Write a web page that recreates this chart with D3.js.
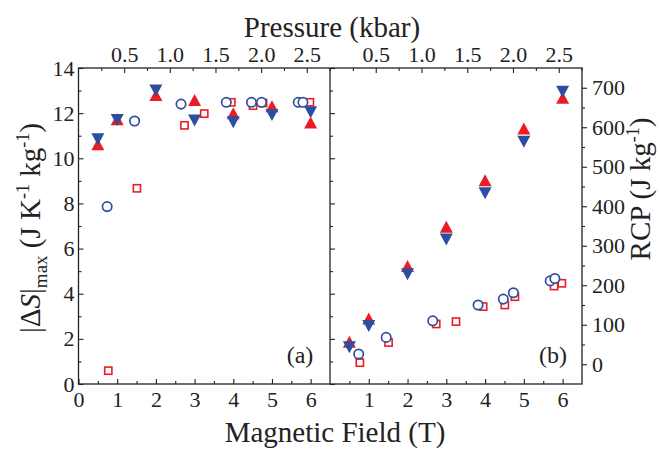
<!DOCTYPE html>
<html><head><meta charset="utf-8">
<script src="https://cdn.jsdelivr.net/npm/d3@7"></script>
<style>
body{margin:0;background:#fff}
text{font-family:"Liberation Serif","Times New Roman",serif;fill:#222}
</style>
</head><body>
<svg id="chart" width="660" height="451"></svg>
<script>
// Magnetic field (T) at which each series was measured
const triFields = [0.5, 1, 2, 3, 4, 5, 6];
const circleFields = [0.74, 1.45, 2.65, 3.82, 4.47, 4.73, 5.68, 5.8];
const squareFields = [0.77, 1.51, 2.74, 3.25, 3.95, 4.51, 4.77, 5.78, 5.98];

// |ΔS|max (J K^-1 kg^-1)
const dsUp = [10.62, 11.73, 12.8, 12.58, 12.0, 12.3, 11.58];
const dsDown = [10.84, 11.7, 13.0, 11.67, 11.6, 11.92, 12.04];
const dsCircle = [7.86, 11.65, 12.4, 12.48, 12.48, 12.48, 12.48, 12.48];
const dsSquare = [0.59, 8.67, 11.46, 11.98, 12.48, 12.33, 12.45, 12.48, 12.48];

// RCP (J kg^-1)
const rcpUp = [57, 116, 249, 348, 466, 597, 675];
const rcpDown = [43, 97, 228, 316, 433, 563, 690];
const rcpCircle = [26, 68, 110, 150, 165, 181, 211, 217];
const rcpSquare = [4, 55, 102, 108, 146, 150, 171, 198, 205];

// Tick values
const fieldTicksLeft = [0, 1, 2, 3, 4, 5, 6];
const fieldTicksRight = [1, 2, 3, 4, 5, 6];
const fieldMinor = [0.5, 1.5, 2.5, 3.5, 4.5, 5.5];
const pressureTicks = [0.5, 1.0, 1.5, 2.0, 2.5];
const pressureMinor = [0.25, 0.75, 1.25, 1.75, 2.25, 2.75];
const dsTicks = [0, 2, 4, 6, 8, 10, 12, 14];
const dsMinor = [1, 3, 5, 7, 9, 11, 13];
const rcpTicks = [0, 100, 200, 300, 400, 500, 600, 700];
const rcpMinor = [50, 150, 250, 350, 450, 550, 650];

const RED = "#ec1c24", BLUE = "#2c4da0";
const SERIF = '"Liberation Serif","Times New Roman",serif';
const svg = d3.select("#chart");

const plotTop = 68, plotBottom = 384, x0 = 78.5, xm = 330, x1 = 582;
const xL = d3.scaleLinear().domain([0, 6.5]).range([x0, xm]);
const xR = d3.scaleLinear().domain([0, 6.5]).range([xm, x1]);
// field-to-pressure conversion: 1 kbar ≈ 2.36 T
const kbar = 2.36;
const pL = d3.scaleLinear().domain([0, 6.5 / kbar]).range([x0, xm]);
const pR = d3.scaleLinear().domain([0, 6.5 / kbar]).range([xm, x1]);
const yDS = d3.scaleLinear().domain([0, 14]).range([plotBottom, plotTop]);
const yRCP = d3.scaleLinear().domain([-50, 750]).range([plotBottom, plotTop]);

const tickFont = 22;

function styleAxis(g, size) {
  g.attr("font-family", SERIF);
  g.select(".domain").remove();
  g.selectAll(".tick line").attr("stroke", "#222").attr("stroke-width", 1.1);
  g.selectAll(".tick text").style("font-size", size + "px")
    .style("font-family", SERIF).attr("fill", "#222");
}
function addAxis(axis, transform, size) {
  const g = svg.append("g").attr("transform", transform).call(axis);
  styleAxis(g, size);
  return g;
}

// bottom field axes (ticks point inward)
addAxis(d3.axisBottom(xL).tickValues(fieldTicksLeft).tickFormat(d3.format("d")).tickSizeInner(-5).tickPadding(7), `translate(0,${plotBottom})`, tickFont);
addAxis(d3.axisBottom(xL).tickValues(fieldMinor).tickFormat("").tickSizeInner(-3), `translate(0,${plotBottom})`, tickFont);
addAxis(d3.axisBottom(xR).tickValues(fieldTicksRight).tickFormat(d3.format("d")).tickSizeInner(-5).tickPadding(7), `translate(0,${plotBottom})`, tickFont);
addAxis(d3.axisBottom(xR).tickValues(fieldMinor).tickFormat("").tickSizeInner(-3), `translate(0,${plotBottom})`, tickFont);

// top pressure axes
addAxis(d3.axisTop(pL).tickValues(pressureTicks).tickFormat(d3.format(".1f")).tickSizeInner(-5).tickPadding(6), `translate(0,${plotTop})`, tickFont);
addAxis(d3.axisTop(pL).tickValues(pressureMinor).tickFormat("").tickSizeInner(-3), `translate(0,${plotTop})`, tickFont);
addAxis(d3.axisTop(pR).tickValues(pressureTicks).tickFormat(d3.format(".1f")).tickSizeInner(-5).tickPadding(6), `translate(0,${plotTop})`, tickFont);
addAxis(d3.axisTop(pR).tickValues(pressureMinor).tickFormat("").tickSizeInner(-3), `translate(0,${plotTop})`, tickFont);

// left |ΔS| axis
addAxis(d3.axisLeft(yDS).tickValues(dsTicks).tickFormat(d3.format("d")).tickSizeInner(-5).tickPadding(4), `translate(${x0},0)`, tickFont);
addAxis(d3.axisLeft(yDS).tickValues(dsMinor).tickFormat("").tickSizeInner(-3), `translate(${x0},0)`, tickFont);
// mirrored |ΔS| ticks on the divider
addAxis(d3.axisRight(yDS).tickValues(dsTicks).tickFormat("").tickSizeInner(5), `translate(${xm},0)`, tickFont);
addAxis(d3.axisRight(yDS).tickValues(dsMinor).tickFormat("").tickSizeInner(3), `translate(${xm},0)`, tickFont);

// right RCP axis
addAxis(d3.axisRight(yRCP).tickValues(rcpTicks).tickFormat(d3.format("d")).tickSizeInner(5).tickPadding(5), `translate(${x1},0)`, tickFont);
addAxis(d3.axisRight(yRCP).tickValues(rcpMinor).tickFormat("").tickSizeInner(3), `translate(${x1},0)`, tickFont);

// frames
svg.append("rect").attr("x", x0).attr("y", plotTop).attr("width", x1 - x0).attr("height", plotBottom - plotTop)
  .attr("fill", "none").attr("stroke", "#222").attr("stroke-width", 1.3);
svg.append("line").attr("x1", xm).attr("x2", xm).attr("y1", plotTop).attr("y2", plotBottom)
  .attr("stroke", "#222").attr("stroke-width", 1.3);

// markers
const triW = 13, triH = 12;
const upPath = `M0,${-triH / 2}L${triW / 2},${triH / 2}L${-triW / 2},${triH / 2}Z`;
const downPath = `M0,${triH / 2}L${triW / 2},${-triH / 2}L${-triW / 2},${-triH / 2}Z`;

function drawPanel(xs, ys, up, down, circ, sq) {
  const g = svg.append("g");
  g.selectAll(".sq").data(d3.zip(squareFields, sq)).join("rect")
    .attr("x", d => xs(d[0]) - 3.6).attr("y", d => ys(d[1]) - 3.6)
    .attr("width", 7.2).attr("height", 7.2)
    .attr("fill", "#fff").attr("stroke", RED).attr("stroke-width", 1.6);
  g.selectAll(".ci").data(d3.zip(circleFields, circ)).join("circle")
    .attr("cx", d => xs(d[0])).attr("cy", d => ys(d[1])).attr("r", 4.7)
    .attr("fill", "#fff").attr("stroke", BLUE).attr("stroke-width", 1.7);
  g.selectAll(".up").data(d3.zip(triFields, up)).join("path")
    .attr("d", upPath).attr("transform", d => `translate(${xs(d[0])},${ys(d[1])})`)
    .attr("fill", RED);
  g.selectAll(".dn").data(d3.zip(triFields, down)).join("path")
    .attr("d", downPath).attr("transform", d => `translate(${xs(d[0])},${ys(d[1])})`)
    .attr("fill", BLUE);
}
drawPanel(xL, yDS, dsUp, dsDown, dsCircle, dsSquare);
drawPanel(xR, yRCP, rcpUp, rcpDown, rcpCircle, rcpSquare);

// panel labels
svg.append("text").attr("x", 300).attr("y", 363).attr("text-anchor", "middle")
  .style("font-size", "24px").text("(a)");
svg.append("text").attr("x", 553).attr("y", 363).attr("text-anchor", "middle")
  .style("font-size", "24px").text("(b)");

// axis titles
svg.append("text").attr("x", 332).attr("y", 37).attr("text-anchor", "middle")
  .style("font-size", "29px").text("Pressure (kbar)");
svg.append("text").attr("x", 335).attr("y", 442).attr("text-anchor", "middle")
  .style("font-size", "29px").text("Magnetic Field (T)");

const yl = svg.append("text").attr("transform", "translate(40,228) rotate(-90)")
  .attr("text-anchor", "middle").style("font-size", "29px");
yl.append("tspan").text("|Δ");
yl.append("tspan").style("font-style", "italic").text("S");
yl.append("tspan").text("|");
yl.append("tspan").attr("dy", 7).style("font-size", "19px").text("max");
yl.append("tspan").attr("dy", -7).text(" (J K");
yl.append("tspan").attr("dy", -11).style("font-size", "18px").text("-1");
yl.append("tspan").attr("dy", 11).text(" kg");
yl.append("tspan").attr("dy", -11).style("font-size", "18px").text("-1");
yl.append("tspan").attr("dy", 11).text(")");

const yr = svg.append("text").attr("transform", "translate(650,189) rotate(-90)")
  .attr("text-anchor", "middle").style("font-size", "29px");
yr.append("tspan").text("RCP (J kg");
yr.append("tspan").attr("dy", -11).style("font-size", "18px").text("-1");
yr.append("tspan").attr("dy", 11).text(")");
</script>
</body></html>
